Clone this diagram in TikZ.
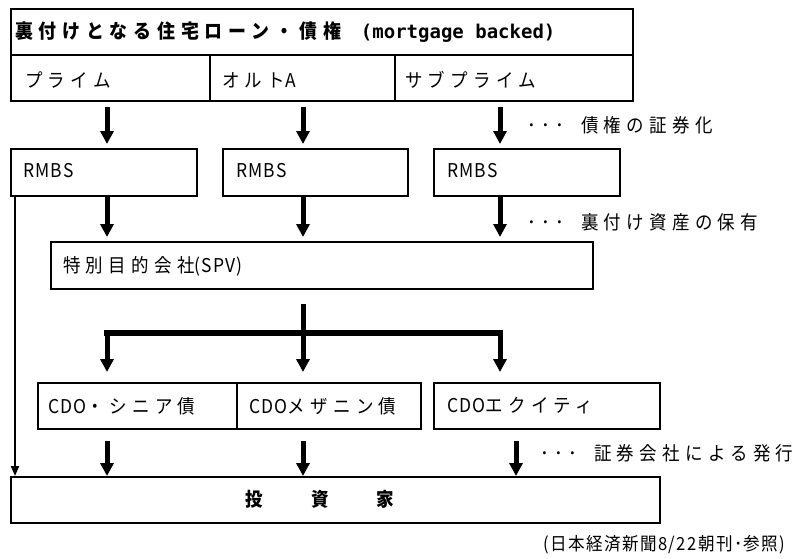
\documentclass[tikz,border=0pt]{standalone}
\usepackage{fontspec}
\usetikzlibrary{arrows.meta,calc}
\newfontfamily\jp[FakeStretch=0.92,LetterSpace=28]{Noto Sans CJK JP}
\newfontfamily\jhd[FakeStretch=0.92,LetterSpace=30]{Noto Sans CJK JP}
\newfontfamily\jl[FakeStretch=0.92,LetterSpace=6]{Noto Sans CJK JP}
\newfontfamily\jcap[FakeStretch=0.92,LetterSpace=8]{Noto Sans CJK JP}
\newfontfamily\monob{DejaVu Sans Mono Bold}
\begin{document}
\begin{tikzpicture}[x=1pt,y=-1pt,
  box/.style={draw, line width=2.4pt, inner sep=0pt, anchor=north west},
  txt/.style={anchor=west, inner sep=0pt, font=\jp\fontsize{19}{21}\selectfont},
  big/.style={line width=5pt, -{Triangle[width=13pt,length=13pt]}},
  slim/.style={line width=2pt, -{Triangle[width=8pt,length=10pt]}}]
\fill[white] (0,0) rectangle (804,558);
\useasboundingbox (0,0) rectangle (804,558);
% top table
\node[box, minimum width=622pt, minimum height=46pt] (hd) at (10,8) {};
\node[box, minimum width=199pt, minimum height=46pt] (p1) at (10,54) {};
\node[box, minimum width=185pt, minimum height=46pt] (p2) at (209,54) {};
\node[box, minimum width=238pt, minimum height=46pt] (p3) at (394,54) {};
% RMBS
\node[box, minimum width=186pt, minimum height=47pt] (r1) at (10,148) {};
\node[box, minimum width=185pt, minimum height=47pt] (r2) at (222,148) {};
\node[box, minimum width=186pt, minimum height=47pt] (r3) at (433,148) {};
% SPV
\node[box, minimum width=542pt, minimum height=47pt] (spv) at (50,241) {};
% CDO
\node[box, minimum width=199pt, minimum height=46pt] (c1) at (37,382) {};
\node[box, minimum width=184pt, minimum height=46pt] (c2) at (236,382) {};
\node[box, minimum width=226pt, minimum height=46pt] (c3) at (433,382) {};
% investors
\node[box, minimum width=649pt, minimum height=46pt] (inv) at (10,476) {};
% texts
\node[txt, font=\jhd\fontsize{19.5}{21}\selectfont] (hdt) at (15,32) {\bfseries 裏付けとなる住宅ローン・債権\hspace{20pt}{\monob\fontsize{19}{20}\selectfont (mortgage backed)}};
\node[txt] (p1t) at (25,80) {プライム};
\node[txt] (p2t) at (222,80) {オルト{\jl A}};
\node[txt] (p3t) at (405,80) {サブプライム};
\node[txt] (r1t) at (23,171) {\jl RMBS};
\node[txt] (r2t) at (236,171) {\jl RMBS};
\node[txt] (r3t) at (447,171) {\jl RMBS};
\node[txt] (spvt) at (63,266) {特別目的会社{\jl (SPV)}};
\node[txt] (c1t) at (48,406) {{\jl CDO}・シニア債};
\node[txt] (c2t) at (249,406) {{\jl CDO}メザニン債};
\node[txt] (c3t) at (447,406) {{\jl CDO}エクイティ};
\node[txt, anchor=center] (invt) at (320,499) {\bfseries 投\hspace{48pt}資\hspace{48pt}家};
\node[txt] (n1) at (527,125) {･･･\hspace{17pt}債権の証券化};
\node[txt] (n2) at (527,222) {･･･\hspace{17pt}裏付け資産の保有};
\node[txt] (n3) at (540,453) {･･･\hspace{17pt}証券会社による発行};
\node[txt, font=\jcap\fontsize{18}{20}\selectfont] (cap) at (543,545) {({}日本経済新聞8/22朝刊･参照)};
% connector columns
\coordinate (xa) at (107,0);
\coordinate (xb) at (303,0);
\coordinate (xc) at (500,0);
\coordinate (xd) at (516,0);
\coordinate (xl) at (15,0);
\coordinate (bar) at (0,333);
\draw[big, shorten <=5pt, shorten >=4pt] (p1.south -| xa) -- (r1.north -| xa);
\draw[big, shorten <=5pt, shorten >=4pt] (p2.south -| xb) -- (r2.north -| xb);
\draw[big, shorten <=5pt, shorten >=4pt] (p3.south -| xc) -- (r3.north -| xc);
\draw[big, shorten >=4pt] (r1.south -| xa) -- (spv.north -| xa);
\draw[big, shorten >=4pt] (r2.south -| xb) -- (spv.north -| xb);
\draw[big, shorten >=4pt] (r3.south -| xc) -- (spv.north -| xc);
\draw[line width=5pt, shorten <=14pt] (spv.south -| xb) -- (bar -| xb);
\draw[line width=6pt, line cap=rect] (bar -| xa) -- (bar -| xc);
\draw[big, shorten >=10pt] (bar -| xa) -- (c1.north -| xa);
\draw[big, shorten >=10pt] (bar -| xb) -- (c2.north -| xb);
\draw[big, shorten >=10pt] (bar -| xc) -- (c3.north -| xc);
\draw[big, shorten <=11pt] (c1.south -| xa) -- (inv.north -| xa);
\draw[big, shorten <=11pt] (c2.south -| xb) -- (inv.north -| xb);
\draw[big, shorten <=11pt] (c3.south -| xd) -- (inv.north -| xd);
\draw[slim] (r1.south -| xl) -- (inv.north -| xl);
\end{tikzpicture}
\end{document}
